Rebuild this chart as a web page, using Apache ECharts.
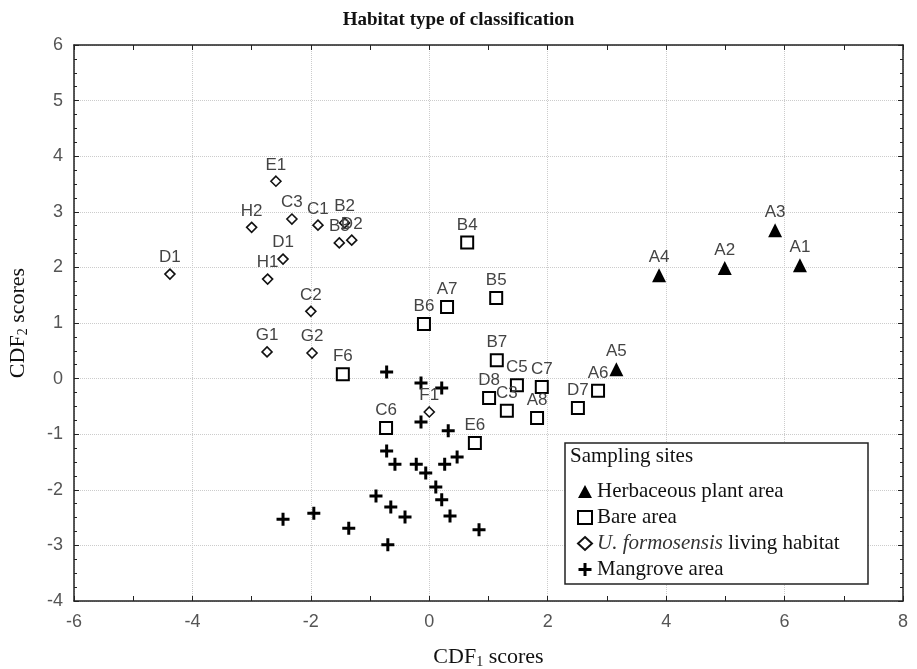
<!DOCTYPE html>
<html>
<head>
<meta charset="utf-8">
<script src="https://cdn.jsdelivr.net/npm/echarts@6/dist/echarts.min.js"></script>
<style>
  html, body { margin: 0; padding: 0; background: #fff; }
  #main { width: 917px; height: 669px; }
</style>
</head>
<body>
<div id="main"></div>
<script>
// herbaceous plant area
var herbNames = ['A1', 'A2', 'A3', 'A4', 'A5'];
var herbX = [6.26, 4.99, 5.84, 3.88, 3.16];
var herbY = [2.04, 1.99, 2.67, 1.86, 0.17];

// bare area
var bareNames = ['B4', 'B5', 'A7', 'B6', 'B7', 'C5', 'C7', 'D8', 'C3', 'A8', 'D7', 'A6', 'C6', 'E6', 'F6'];
var bareX = [0.64, 1.13, 0.30, -0.09, 1.14, 1.48, 1.90, 1.01, 1.31, 1.82, 2.51, 2.85, -0.73, 0.77, -1.46];
var bareY = [2.45, 1.45, 1.29, 0.98, 0.33, -0.12, -0.15, -0.35, -0.58, -0.71, -0.53, -0.22, -0.89, -1.16, 0.08];

// U. formosensis living habitat
var habNames = ['E1', 'H2', 'C3', 'C1', 'B2', 'B3', 'D2', 'D1', 'D1', 'H1', 'C2', 'G1', 'G2', 'F1'];
var habX = [-2.59, -3.00, -2.32, -1.88, -1.43, -1.52, -1.31, -4.38, -2.47, -2.73, -2.00, -2.74, -1.98, 0.00];
var habY = [3.55, 2.72, 2.87, 2.76, 2.80, 2.44, 2.49, 1.88, 2.15, 1.79, 1.21, 0.48, 0.46, -0.60];

// mangrove area
var mangX = [-0.72, -0.14, 0.21, -0.14, 0.32, -0.72, -0.58, -0.22, -0.06, 0.26, 0.47, 0.11, 0.21, -0.90, -0.65, -0.41, 0.35, -1.36, 0.84, -0.70, -2.47, -1.95];
var mangY = [0.12, -0.08, -0.17, -0.78, -0.94, -1.30, -1.54, -1.54, -1.70, -1.54, -1.41, -1.95, -2.18, -2.11, -2.31, -2.49, -2.47, -2.69, -2.72, -2.99, -2.53, -2.42];

var seriesNames = ['Herbaceous plant area', 'Bare area', 'U. formosensis living habitat', 'Mangrove area'];

function pts(xs, ys, names) {
    var out = [];
    for (var i = 0; i < xs.length; i++) {
        out.push({ value: [xs[i], ys[i]], name: names ? names[i] : '' });
    }
    return out;
}

var plusPath = 'path://M5,0H8V5H13V8H8V13H5V8H0V5H5Z';

var pointLabel = {
    show: true,
    position: 'top',
    distance: 2,
    formatter: '{b}',
    fontFamily: 'Liberation Sans',
    fontSize: 17,
    color: '#444'
};

var tickStyle = { show: true, inside: true, length: 5, lineStyle: { color: '#222' } };
var frameLine = { show: true, onZero: false, lineStyle: { color: '#222', width: 1.5 } };
var gridLine = { show: true, lineStyle: { color: '#ccc', type: 'dotted', width: 1 } };
var tickFont = { fontFamily: 'Liberation Sans Narrow, Liberation Sans', fontSize: 18, color: '#555' };
var subStyle = { fontFamily: 'Liberation Serif', fontSize: 14, color: '#111', verticalAlign: 'bottom', padding: [10, 0, 0, 0] };

var myChart = echarts.init(document.getElementById('main'));
var option = {
    animation: false,
    backgroundColor: '#fff',
    title: {
        text: 'Habitat type of classification',
        left: 'center',
        top: 6,
        textStyle: { fontFamily: 'Liberation Serif', fontWeight: 'bold', fontSize: 19, color: '#111' }
    },
    grid: { left: 74, right: 14, top: 45, bottom: 68, outerBoundsMode: 'none' },
    legend: {
        orient: 'vertical',
        left: 572,
        top: 476,
        itemWidth: 14,
        itemHeight: 13,
        itemGap: 5,
        data: seriesNames,
        formatter: function (name) {
            if (name === 'U. formosensis living habitat') {
                return '{i|U. formosensis} living habitat';
            }
            return name;
        },
        textStyle: {
            fontFamily: 'Liberation Serif',
            fontSize: 21,
            color: '#111',
            rich: {
                i: { fontFamily: 'Liberation Serif', fontStyle: 'italic', fontSize: 21, color: '#333' }
            }
        }
    },
    graphic: [
        {
            type: 'rect',
            z: 3,
            shape: { x: 565, y: 443, width: 303, height: 141 },
            style: { fill: '#fff', stroke: '#222', lineWidth: 1.5 }
        },
        {
            type: 'text',
            z: 4,
            left: 570,
            top: 446,
            style: { text: 'Sampling sites', font: '21px "Liberation Serif"', fill: '#111' }
        }
    ],
    xAxis: [
        {
            type: 'value',
            min: -6, max: 8, interval: 2,
            name: 'CDF{sub|1} scores',
            nameLocation: 'middle',
            nameGap: 44,
            nameTextStyle: {
                fontFamily: 'Liberation Serif', fontSize: 22, color: '#111',
                rich: { sub: subStyle }
            },
            axisLine: frameLine,
            axisTick: tickStyle,
            minorTick: { show: true, splitNumber: 2, length: 5, lineStyle: { color: '#222' } },
            axisLabel: Object.assign({ margin: 12 }, tickFont),
            splitLine: gridLine
        },
        {
            type: 'value',
            position: 'top',
            min: -6, max: 8, interval: 2,
            axisLine: frameLine,
            axisTick: tickStyle,
            minorTick: { show: true, splitNumber: 2, length: 5, lineStyle: { color: '#222' } },
            axisLabel: { show: false },
            splitLine: { show: false }
        }
    ],
    yAxis: [
        {
            type: 'value',
            min: -4, max: 6, interval: 1,
            name: 'CDF{sub|2} scores',
            nameLocation: 'middle',
            nameGap: 44,
            nameTextStyle: {
                fontFamily: 'Liberation Serif', fontSize: 22, color: '#111',
                rich: { sub: subStyle }
            },
            axisLine: frameLine,
            axisTick: tickStyle,
            minorTick: { show: true, splitNumber: 4, length: 3, lineStyle: { color: '#222' } },
            axisLabel: Object.assign({ margin: 11 }, tickFont),
            splitLine: gridLine
        },
        {
            type: 'value',
            position: 'right',
            min: -4, max: 6, interval: 1,
            axisLine: frameLine,
            axisTick: tickStyle,
            minorTick: { show: true, splitNumber: 4, length: 3, lineStyle: { color: '#222' } },
            axisLabel: { show: false },
            splitLine: { show: false }
        }
    ],
    series: [
        {
            name: seriesNames[0],
            type: 'scatter',
            symbol: 'triangle',
            symbolSize: 14,
            itemStyle: { color: '#000', opacity: 1 },
            label: pointLabel,
            data: pts(herbX, herbY, herbNames),
            z: 5
        },
        {
            name: seriesNames[1],
            type: 'scatter',
            symbol: 'rect',
            symbolSize: 12,
            itemStyle: { color: '#fff', borderColor: '#000', borderWidth: 2, opacity: 1 },
            label: pointLabel,
            data: pts(bareX, bareY, bareNames),
            z: 4
        },
        {
            name: seriesNames[2],
            type: 'scatter',
            symbol: 'diamond',
            symbolSize: 10,
            itemStyle: { color: '#fff', borderColor: '#111', borderWidth: 1.6, opacity: 1 },
            label: pointLabel,
            data: pts(habX, habY, habNames),
            z: 4
        },
        {
            name: seriesNames[3],
            type: 'scatter',
            symbol: plusPath,
            symbolSize: 13,
            itemStyle: { color: '#000', opacity: 1 },
            data: pts(mangX, mangY),
            z: 4
        }
    ]
};
myChart.setOption(option);
</script>
</body>
</html>
